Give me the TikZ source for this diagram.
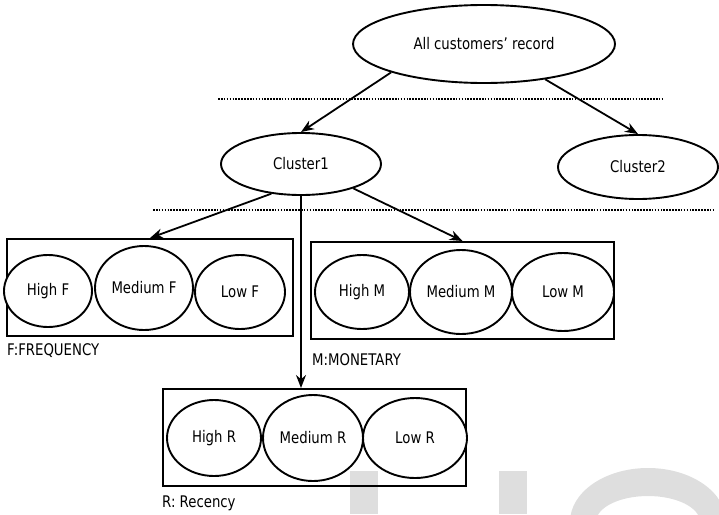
\documentclass[tikz,border=0pt]{standalone}
\usepackage{fontspec}
\setmainfont{DejaVu Sans}[FakeStretch=0.83]
\usetikzlibrary{shapes.geometric,arrows.meta}
\tikzset{
    oval/.style={draw,ellipse,fill=white,line width=1.9pt,inner sep=0pt},
    group/.style={draw,rectangle,line width=2pt,inner sep=0pt},
    link/.style={line width=1.8pt,-{Stealth[length=13pt,width=10pt]}},
    divider/.style={line width=2pt,dash pattern=on 1.6pt off 1.3pt},
    legend/.style={anchor=west,inner sep=0pt},
}

\begin{document}
\begin{tikzpicture}[x=1pt,y=-1pt,font=\fontsize{16}{19}\selectfont]
                \useasboundingbox (0,0) rectangle (719,514);
                % faint letters at the bottom
                \begin{scope}
                    \clip (0,0) rectangle (719,514);
                    \fill[black!13] (350,471) rectangle (378,514);
                    \fill[black!13] (499,471) rectangle (527,514);
                    \fill[black!13,even odd rule] (648,522) ellipse[x radius=78,y radius=54]
                                                  (648,522) ellipse[x radius=52,y radius=26];
                \end{scope}

                    \node[oval,minimum width=262pt,minimum height=78pt] (all) at (484,44) {All customers' record};
                    \node[oval,minimum width=160pt,minimum height=62pt] (c1) at (301,164) {Cluster1};
                    \node[oval,minimum width=160pt,minimum height=64pt] (c2) at (638,167) {Cluster2};

                    \draw[divider] (218,99) -- (663,99);
                    \draw[divider] (153,210) -- (713,210);

                    % frequency, monetary, recency groups
                    \node[group,minimum width=286pt,minimum height=97pt] (fbox) at (150,287.5) {};
                    \node[group,minimum width=303pt,minimum height=97pt] (mbox) at (462.5,290.5) {};
                    \node[group,minimum width=303pt,minimum height=97pt] (rbox) at (314.5,437.5) {};

                    \node[oval,minimum width=88pt,minimum height=72pt] (hf) at (48,291) {High F};
                    \node[oval,minimum width=98pt,minimum height=84pt] (mf) at (144,288) {Medium F};
                    \node[oval,minimum width=90pt,minimum height=74pt] (lf) at (240,292) {Low F};

                    \node[oval,minimum width=94pt,minimum height=74pt] (hm) at (362,292) {High M};
                    \node[oval,minimum width=102pt,minimum height=84pt] (mm) at (461,292) {Medium M};
                    \node[oval,minimum width=102pt,minimum height=78pt] (lm) at (563,292) {Low M};

                    \node[oval,minimum width=94pt,minimum height=76pt] (hr) at (214,438) {High R};
                    \node[oval,minimum width=100pt,minimum height=86pt] (mr) at (313,438) {Medium R};
                    \node[oval,minimum width=104pt,minimum height=80pt] (lr) at (415,438) {Low R};

                    \node[legend] (flabel) at (7,351) {F:FREQUENCY};
                    \node[legend] (mlabel) at (312,360) {M:MONETARY};
                    \node[legend] (rlabel) at (162,503) {R: Recency};

                    \draw[link] (all.197) -- (c1.north);
                    \draw[link] (all.330) -- (c2.north);
                    \draw[link] (c1.225) -- (fbox.north);
                    \draw[link] (c1.south) -- (c1.south |- rbox.north);
                    \draw[link] (c1.335) -- (mbox.north);
            \end{tikzpicture}
\end{document}
